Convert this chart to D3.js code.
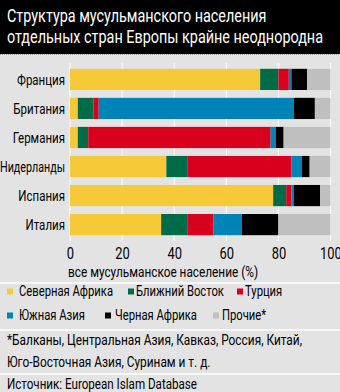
<!DOCTYPE html>
<html><head><meta charset="utf-8">
<script src="https://cdn.jsdelivr.net/npm/d3@7"></script>
<style>
html,body{margin:0;padding:0;background:#e3e3e3;}
svg{display:block;}
text{font-family:Roboto,"Noto Sans",sans-serif;}
</style></head>
<body><svg id="c" width="340" height="392"></svg>
<script>
const categories = ["Франция","Британия","Германия","Нидерланды","Испания","Италия"];
const seriesNames = ["Северная Африка","Ближний Восток","Турция","Южная Азия","Черная Африка","Прочие*"];
const northAfrica = [73, 3, 3, 37, 78, 35];
const middleEast  = [7, 6, 4, 8, 5, 10];
const turkey      = [4, 2, 70, 40, 2, 10];
const southAsia   = [1, 75, 2, 4, 1, 11];
const blackAfrica = [6, 8, 3, 3, 10, 14];
const others      = [9, 6, 18, 8, 4, 20];
const tickValues  = [0, 20, 40, 60, 80, 100];
const colors = ["#f5c937","#006b47","#d8001c","#0084b7","#000000","#bfbfbf"];

function condense(sel, sample, target, maxW){
  const node = sel.filter(function(){return this.textContent===sample;}).node() || sel.node();
  const k = target / node.getComputedTextLength();
  sel.each(function(){
    let w = this.getComputedTextLength()*k;
    if (maxW && w > maxW) w = maxW;
    d3.select(this).attr("textLength", w).attr("lengthAdjust","spacingAndGlyphs");
  });
}

const svg = d3.select("#c");
svg.append("rect").attr("width",340).attr("height",392).attr("fill","#e3e3e3");
svg.append("rect").attr("x",0).attr("y",0).attr("width",340).attr("height",54).attr("fill","#000");
svg.append("line").attr("x1",0).attr("x2",340).attr("y1",54.5).attr("y2",54.5).attr("stroke","#999").attr("stroke-dasharray","1,1");
const titleLines = ["Структура мусульманского населения","отдельных стран Европы крайне неоднородна"];
const tt = svg.selectAll("text.title").data(titleLines).join("text").attr("class","title")
  .attr("x",7).attr("y",(d,i)=>22+i*21).attr("fill","#fff").attr("font-size",18.5).text(d=>d);
condense(tt, titleLines[1], 316);

const rows = categories.map((c,i)=>({cat:c, vals:[northAfrica[i],middleEast[i],turkey[i],southAsia[i],blackAfrica[i],others[i]]}));
const stack = d3.stack().keys(d3.range(6)).value((d,k)=>d.vals[k]);
const layers = stack(rows);

const x = d3.scaleLinear().domain([0,100]).range([70,330.5]);
const y = d3.scaleBand().domain(categories).range([63,241]).paddingInner(0.27).paddingOuter(0.2);

svg.append("g").selectAll("line").data(tickValues).join("line")
  .attr("x1",d=>x(d)).attr("x2",d=>x(d)).attr("y1",63).attr("y2",241)
  .attr("stroke","#fff").attr("stroke-width",1);

svg.append("g").selectAll("g").data(layers).join("g").attr("fill",(d,i)=>colors[i])
  .selectAll("rect").data(d=>d).join("rect")
  .attr("x",d=>x(d[0])).attr("width",d=>x(d[1])-x(d[0]))
  .attr("y",d=>y(d.data.cat)).attr("height",y.bandwidth());

const cl = svg.selectAll("text.cat").data(categories).join("text").attr("class","cat")
  .attr("x",65).attr("y",d=>y(d)+y.bandwidth()/2+5.5).attr("text-anchor","end")
  .attr("font-size",15).attr("fill","#000").text(d=>d);
condense(cl, "Франция", 48, 65);

const ax = svg.append("g").attr("transform","translate(0,241)")
  .call(d3.axisBottom(x).tickValues(tickValues).tickSize(0).tickPadding(0));
ax.select(".domain").remove();
const tl = ax.selectAll("text").attr("y",18).attr("dy",null).attr("font-size",16).attr("fill","#000")
  .style("font-family","Roboto,sans-serif");
condense(tl, "80", 14.5);

const at = svg.append("text").attr("x",68).attr("y",277).attr("font-size",14.5).attr("fill","#000")
  .text("все мусульманское население (%)");
condense(at, at.text(), 190);

[283,330,374].forEach(yy=>svg.append("line").attr("x1",0).attr("x2",340).attr("y1",yy).attr("y2",yy).attr("stroke","#fff").attr("stroke-width",1.3));

const legPos = [[7,296],[128,296],[237,296],[7,320],[105,320],[213,320]];
const textOff = [12,8,8,12,10,9];
const leg = svg.append("g").selectAll("g").data(seriesNames).join("g")
  .attr("transform",(d,i)=>`translate(${legPos[i][0]},${legPos[i][1]})`);
leg.append("rect").attr("x",0).attr("y",-7.5).attr("width",6).attr("height",6).attr("fill",(d,i)=>colors[i]);
const lt = leg.append("text").attr("x",(d,i)=>textOff[i]).attr("y",0).attr("font-size",14).attr("fill","#000").text(d=>d);
condense(lt, "Северная Африка", 94);

const notes = ["*Балканы, Центральная Азия, Кавказ, Россия, Китай,","Юго-Восточная Азия, Суринам и т. д."];
const nt = svg.selectAll("text.note").data(notes).join("text").attr("class","note")
  .attr("x",7).attr("y",(d,i)=>345+i*22).attr("font-size",14).attr("fill","#000").text(d=>d);
condense(nt, notes[0], 295);
const src = svg.append("text").attr("x",7).attr("y",389).attr("font-size",14).attr("fill","#000").text("Источник: European Islam Database");
condense(src, src.text(), 190);
</script></body></html>
